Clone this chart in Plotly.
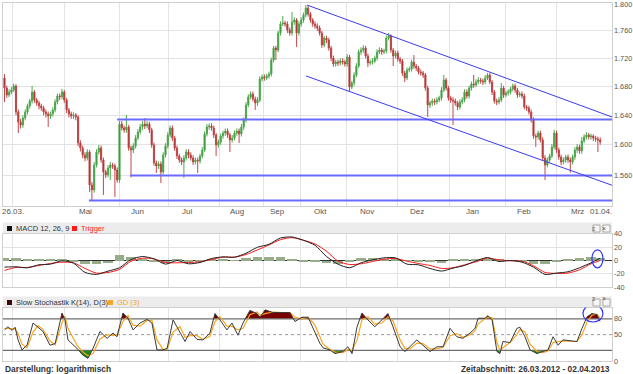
import math
import plotly.graph_objects as go

# ---------------- data ----------------
bar_index = list(range(260))

opens = [
 1692.0, 1677.8, 1668.0, 1672.2, 1675.0, 1680.7, 1644.5, 1630.8, 1626.7, 1636.2,
 1644.5, 1652.8, 1659.7, 1672.2, 1661.1, 1656.9, 1652.8, 1650.0, 1644.5, 1641.7,
 1639.0, 1641.7, 1647.2, 1658.3, 1666.7, 1665.5, 1672.2, 1661.1, 1647.2, 1641.7,
 1639.0, 1640.4, 1637.6, 1602.4, 1595.7, 1586.3, 1582.4, 1590.3, 1547.0, 1540.6,
 1573.1, 1590.3, 1595.7, 1579.7, 1564.0, 1560.1, 1569.2, 1573.1, 1571.8, 1566.6,
 1553.5, 1628.0, 1622.6, 1619.9, 1624.0, 1595.7, 1593.0, 1598.4, 1609.1, 1617.2,
 1624.0, 1628.0, 1625.3, 1628.0, 1619.9, 1599.7, 1575.8, 1571.8, 1574.5, 1564.0,
 1586.3, 1598.4, 1613.2, 1622.6, 1609.1, 1595.7, 1585.0, 1579.7, 1577.1, 1582.4,
 1590.3, 1586.3, 1582.4, 1577.1, 1579.7, 1578.4, 1585.0, 1593.0, 1614.5, 1624.0,
 1625.3, 1622.6, 1613.2, 1599.7, 1603.7, 1611.8, 1615.8, 1618.5, 1613.2, 1606.4,
 1609.1, 1615.8, 1618.5, 1614.5, 1624.0, 1633.5, 1654.1, 1665.3, 1669.4, 1662.5,
 1656.9, 1661.1, 1690.5, 1693.4, 1692.0, 1694.8, 1697.6, 1717.6, 1734.9, 1732.0,
 1756.9, 1770.2, 1771.7, 1770.2, 1761.3, 1756.9, 1773.1, 1776.1, 1756.9, 1770.2,
 1776.1, 1783.6, 1794.0, 1785.1, 1776.1, 1770.2, 1767.2, 1764.3, 1756.9, 1739.3,
 1749.5, 1746.6, 1734.9, 1720.5, 1711.9, 1714.7, 1713.3, 1716.2, 1714.7, 1711.9,
 1721.9, 1679.2, 1684.9, 1696.2, 1709.0, 1729.1, 1732.0, 1734.9, 1723.4, 1713.3,
 1714.7, 1716.2, 1720.5, 1729.1, 1732.0, 1729.1, 1730.6, 1749.5, 1752.5, 1732.0,
 1723.4, 1727.7, 1719.0, 1716.2, 1699.0, 1692.0, 1703.3, 1704.7, 1714.7, 1709.0,
 1706.1, 1700.5, 1699.0, 1696.2, 1677.8, 1654.1, 1656.9, 1659.7, 1658.3, 1661.1,
 1663.9, 1675.0, 1689.1, 1677.8, 1663.9, 1661.1, 1659.7, 1656.9, 1651.4, 1658.3,
 1661.1, 1672.2, 1666.7, 1677.8, 1683.5, 1682.1, 1686.3, 1689.1, 1687.7, 1686.3,
 1692.0, 1696.2, 1686.3, 1672.2, 1659.7, 1658.3, 1661.1, 1677.8, 1668.0, 1670.8,
 1672.2, 1676.4, 1680.7, 1675.0, 1668.0, 1669.4, 1666.7, 1651.4, 1650.0, 1644.5,
 1633.5, 1611.8, 1610.5, 1615.8, 1606.4, 1582.4, 1573.1, 1579.7, 1585.0, 1597.0,
 1615.8, 1593.0, 1583.7, 1577.1, 1579.7, 1583.7, 1579.7, 1577.1, 1583.7, 1593.0,
 1597.0, 1591.7, 1605.1, 1610.5, 1613.2, 1610.5, 1611.8, 1609.1, 1607.7, 1606.4]

highs = [
 1697.6, 1681, 1676, 1679, 1684, 1683, 1648, 1635, 1640, 1648,
 1656, 1663, 1680.7, 1675, 1664, 1660, 1656, 1653, 1648, 1645,
 1645, 1651, 1662, 1670, 1670, 1676.4, 1675, 1664, 1650, 1645,
 1644, 1643, 1640, 1606, 1599, 1590, 1594, 1593, 1551, 1577,
 1594, 1599.7, 1599, 1583, 1567, 1573, 1577, 1576, 1575, 1570,
 1632, 1632, 1626, 1640.4, 1627, 1599, 1602, 1613, 1621, 1628,
 1632, 1636.2, 1632, 1631, 1623, 1603, 1579, 1578, 1578, 1590,
 1602, 1617, 1626, 1626, 1612, 1599, 1588, 1583, 1586, 1594,
 1594, 1590, 1586, 1583, 1583, 1588, 1597, 1618, 1628, 1629,
 1629, 1626, 1616, 1607, 1615, 1619, 1622, 1622, 1616, 1613,
 1619, 1622, 1622, 1628, 1637, 1658, 1669, 1673, 1673, 1666,
 1665, 1694, 1697, 1697, 1698, 1701, 1721, 1738, 1738, 1760,
 1774, 1782.1, 1775, 1774, 1765, 1788.0, 1780, 1779, 1774, 1780,
 1787, 1798.5, 1797, 1788, 1779, 1774, 1771, 1768, 1760, 1753,
 1753, 1750, 1738, 1724, 1718, 1718, 1720, 1720, 1718, 1726,
 1725, 1688, 1700, 1713, 1733, 1736, 1739, 1738, 1727, 1718,
 1720, 1724, 1733, 1736, 1735, 1734, 1753, 1756.9, 1755, 1735,
 1731, 1731, 1722, 1719, 1702, 1707, 1708, 1718, 1724.8, 1712,
 1709, 1704, 1702, 1699, 1681, 1660, 1663, 1663, 1665, 1667,
 1679, 1696.2, 1692, 1681, 1667, 1665, 1663, 1660, 1662, 1665,
 1676, 1676, 1681, 1687, 1696.2, 1690, 1693, 1692, 1691, 1696,
 1699.0, 1699, 1689, 1675, 1663, 1665, 1684.9, 1681, 1674, 1676,
 1679.2, 1684, 1684, 1678, 1673, 1673, 1670, 1654, 1653, 1648,
 1637, 1615, 1619, 1619, 1610, 1586, 1583, 1588, 1601, 1619.9,
 1619, 1596, 1587, 1583, 1586.3, 1587, 1583, 1587, 1597, 1601,
 1600, 1610.5, 1614, 1617, 1615.8, 1615, 1614, 1612, 1611, 1610]

lows = [
 1658.3, 1664, 1665, 1669, 1672, 1640, 1615.8, 1622, 1623, 1633,
 1641, 1649, 1656, 1657, 1653, 1648, 1646, 1640, 1637, 1624.0,
 1635, 1638, 1644, 1655, 1661, 1662, 1657, 1643, 1637, 1635,
 1635, 1633, 1598, 1591, 1582, 1578, 1579, 1538.0, 1527.7, 1537,
 1570, 1587, 1576, 1534.2, 1556, 1557, 1553.5, 1568, 1531.6, 1550,
 1550, 1619, 1616, 1616, 1592, 1557, 1589, 1595, 1606, 1614,
 1620, 1621, 1622, 1616, 1596, 1572, 1562.7, 1568, 1549.6, 1561,
 1583, 1595, 1610, 1605, 1592, 1581, 1576, 1573, 1556.1, 1579,
 1582, 1579, 1573, 1574, 1562.7, 1575, 1582, 1590, 1611, 1620,
 1619, 1609, 1585.0, 1596, 1600, 1608, 1612, 1609, 1590.3, 1603,
 1606, 1612, 1602.4, 1611, 1620, 1630, 1651, 1662, 1659, 1647.2,
 1653, 1658, 1687, 1688, 1689, 1691, 1694, 1714, 1717.6, 1729,
 1753, 1767, 1766, 1757, 1753, 1753, 1769, 1736.4, 1753, 1766,
 1772, 1780, 1781, 1772, 1766, 1763, 1760, 1753, 1735, 1736,
 1742, 1731, 1716, 1708, 1708, 1709, 1710, 1711, 1708, 1708,
 1672.2, 1676, 1681, 1693, 1706, 1725, 1728, 1720, 1707.6, 1710,
 1711, 1713, 1717, 1726, 1725, 1726, 1727, 1746, 1728, 1709.0,
 1720, 1715, 1712, 1695, 1686.3, 1689, 1700, 1701, 1705, 1702,
 1697, 1695, 1692, 1674, 1637.6, 1650, 1653, 1654, 1655, 1658,
 1660, 1672, 1674, 1660, 1657, 1626.7, 1653, 1647, 1648, 1655,
 1658, 1663, 1663, 1674, 1678, 1679, 1683, 1684, 1682, 1683,
 1689, 1683, 1668, 1656, 1654, 1655, 1658, 1664, 1665, 1667,
 1669, 1673, 1671, 1664, 1665, 1663, 1648, 1646, 1641, 1630,
 1608, 1597.0, 1607, 1603, 1579, 1553.5, 1570, 1576, 1582, 1594,
 1589, 1580, 1573, 1574, 1576, 1576, 1563, 1574, 1580, 1589,
 1588, 1588, 1602, 1607, 1607, 1607, 1605, 1604, 1590.3, 1600]

closes = [
 1677.8, 1668.0, 1672.2, 1675.0, 1680.7, 1644.5, 1630.8, 1626.7, 1636.2, 1644.5,
 1652.8, 1659.7, 1672.2, 1661.1, 1656.9, 1652.8, 1650.0, 1644.5, 1641.7, 1639.0,
 1641.7, 1647.2, 1658.3, 1666.7, 1665.5, 1672.2, 1661.1, 1647.2, 1641.7, 1639.0,
 1640.4, 1637.6, 1602.4, 1595.7, 1586.3, 1582.4, 1590.3, 1547.0, 1540.6, 1573.1,
 1590.3, 1595.7, 1579.7, 1564.0, 1560.1, 1569.2, 1573.1, 1571.8, 1566.6, 1553.5,
 1628.0, 1622.6, 1619.9, 1624.0, 1595.7, 1593.0, 1598.4, 1609.1, 1617.2, 1624.0,
 1628.0, 1625.3, 1628.0, 1619.9, 1599.7, 1575.8, 1571.8, 1574.5, 1564.0, 1586.3,
 1598.4, 1613.2, 1622.6, 1609.1, 1595.7, 1585.0, 1579.7, 1577.1, 1582.4, 1590.3,
 1586.3, 1582.4, 1577.1, 1579.7, 1578.4, 1585.0, 1593.0, 1614.5, 1624.0, 1625.3,
 1622.6, 1613.2, 1599.7, 1603.7, 1611.8, 1615.8, 1618.5, 1613.2, 1606.4, 1609.1,
 1615.8, 1618.5, 1614.5, 1624.0, 1633.5, 1654.1, 1665.3, 1669.4, 1662.5, 1656.9,
 1661.1, 1690.5, 1693.4, 1692.0, 1694.8, 1697.6, 1717.6, 1734.9, 1732.0, 1756.9,
 1770.2, 1771.7, 1770.2, 1761.3, 1756.9, 1773.1, 1776.1, 1756.9, 1770.2, 1776.1,
 1783.6, 1794.0, 1785.1, 1776.1, 1770.2, 1767.2, 1764.3, 1756.9, 1739.3, 1749.5,
 1746.6, 1734.9, 1720.5, 1711.9, 1714.7, 1713.3, 1716.2, 1714.7, 1711.9, 1721.9,
 1679.2, 1684.9, 1696.2, 1709.0, 1729.1, 1732.0, 1734.9, 1723.4, 1713.3, 1714.7,
 1716.2, 1720.5, 1729.1, 1732.0, 1729.1, 1730.6, 1749.5, 1752.5, 1732.0, 1723.4,
 1727.7, 1719.0, 1716.2, 1699.0, 1692.0, 1703.3, 1704.7, 1714.7, 1709.0, 1706.1,
 1700.5, 1699.0, 1696.2, 1677.8, 1654.1, 1656.9, 1659.7, 1658.3, 1661.1, 1663.9,
 1675.0, 1689.1, 1677.8, 1663.9, 1661.1, 1659.7, 1656.9, 1651.4, 1658.3, 1661.1,
 1672.2, 1666.7, 1677.8, 1683.5, 1682.1, 1686.3, 1689.1, 1687.7, 1686.3, 1692.0,
 1696.2, 1686.3, 1672.2, 1659.7, 1658.3, 1661.1, 1677.8, 1668.0, 1670.8, 1672.2,
 1676.4, 1680.7, 1675.0, 1668.0, 1669.4, 1666.7, 1651.4, 1650.0, 1644.5, 1633.5,
 1611.8, 1610.5, 1615.8, 1606.4, 1582.4, 1573.1, 1579.7, 1585.0, 1597.0, 1615.8,
 1593.0, 1583.7, 1577.1, 1579.7, 1583.7, 1579.7, 1577.1, 1583.7, 1593.0, 1597.0,
 1591.7, 1605.1, 1610.5, 1613.2, 1610.5, 1611.8, 1609.1, 1607.7, 1606.4, 1603.7]

# x axis: month grid positions (bar index) and label positions
month_grid_idx = [3.57, 26.0, 49.9, 71.4, 93.6, 112.5, 128.8, 148.8, 170.8, 193.4, 218.0, 240.1]
month_label_idx = [3.9, 35.4, 58.0, 79.3, 101.1, 118.5, 137.2, 157.6, 179.5, 203.3, 225.9, 249.3, 259.3]
month_labels = ["26.03.", "Mai", "Jun", "Jul", "Aug", "Sep", "Okt", "Nov", "Dez", "Jan", "Feb", "Mrz", "01.04."]
x_first, x_last = -0.65, 264.13

price_ticks = [1520, 1560, 1600, 1640, 1680, 1720, 1760, 1800]
price_labels = ["1.520", "1.560", "1.600", "1.640", "1.680", "1.720", "1.760", "1.800"]

# support lines (level, starting bar) and the trend channel
support_levels = [1634.0, 1559.5, 1527.0]
support_start = [49.0, 54.6, 36.7]
channel_upper_x = [131.5, x_last]
channel_upper_y = [1798.5, 1637.6]
channel_lower_x = [131.1, x_last]
channel_lower_y = [1694.8, 1546.7]

# MACD 12,26,9 (sampled every 5 bars)
macd_idx = list(range(0, 256, 5)) + [259]
macd_vals = [-10, -9.5, -11, -6.5, -5.5, -0.5, -4, -18, -21, -16,
             -11, 1.5, 6, 2.5, -5.5, 0, -5, -3, 3, 5.5,
             5, 11, 20, 24.5, 34, 35.5, 30.5, 23, 6, -5.5,
             -11, -3.5, 1, 4, 4, -5.5, -6.5, -12, -16, -11.5,
             -7.5, -0.5, 4.5, -1.5, 0, -2.5, -10, -21, -19, -17,
             -11, -3.5, 3.5]
trigger_vals = [-15, -10.5, -10.5, -7.5, -4.5, -2.5, -3.5, -12, -19, -18,
                -13.5, -1, 3.5, 2.5, -3, -3.5, -3, -2, 1.5, 5,
                5, 9, 16, 23.5, 31.5, 34.5, 30.5, 25, 14, -1,
                -6, -5, -1.5, 2, 3, -1, -4.5, -7.5, -12, -11,
                -6.5, -2, 3.5, 1, -0.5, -1, -8, -18, -19.5, -19,
                -14, -5, 0]
hist_vals = [4, 3.5, 1, 1, 1, 3, -3, -6, -6, -4,
             8, 5, 2, -2, -4, 2.5, -2, -1.5, 3, 2,
             0.5, 4, 6, 6, 5, 1, -2, -3, -4, -5,
             -3, 4, 4.5, 2, 1.5, 0.5, -2, -3, -3.5, 1.5,
             2.5, 2.5, 2, 1.5, 0.5, -3, -5, -5, -1, 3,
             4.5, 5.5, 4]
macd_ticks = [-40, -20, 0, 20, 40]

# Slow stochastic K(14), D(3)
stoch_idx = [0, 1.5, 3.3, 4.6, 5.9, 7.6, 9.8, 12.4, 14.6, 16.7,
             19.8, 22, 25, 26.3, 27.6, 31.5, 34.1, 36.3, 38.5, 41.5,
             44.6, 47.2, 48.9, 51.5, 53.7, 55.9, 58.9, 62, 64.1, 66.3,
             68.9, 70.7, 73.3, 76.3, 78.5, 80.7, 83.7, 86.3, 89.3, 91.5,
             93.7, 96.7, 98.9, 101.5, 103.7, 106.7, 109.8, 111.1, 113.3, 116.7,
             121.1, 124.1, 126.3, 129.3, 132, 135, 137.2, 138.5, 141.5, 143.7,
             147.2, 149.3, 151.1, 153.3, 155.4, 158, 161, 164.1, 166.7, 168.9,
             172, 174.1, 176.3, 179.3, 181.9, 185, 188, 190.7, 193.7, 196.7,
             199.3, 202.4, 204.6, 205.9, 208.9, 210.2, 212, 214.1, 215.4, 216.7,
             219.8, 222.8, 224.1, 226.3, 228.5, 231.5, 234.1, 236.3, 238.5, 240.7,
             242.8, 247.2, 248.9, 251.1, 253.3, 255.4, 257.6, 258.9]
stoch_k = [59, 65, 58, 64, 40, 21, 30, 72, 64, 56,
           30, 33, 91, 78, 40, 24, 11, 5, 24, 56,
           43, 53, 46, 91, 81, 59, 72, 79, 72, 21,
           21, 24, 78, 53, 37, 56, 41, 40, 53, 90,
           78, 59, 72, 49, 72, 96, 90, 83, 97, 92,
           92, 92, 75, 83, 83, 55, 33, 25, 21, 14,
           18, 27, 14, 65, 91, 78, 65, 78, 90, 65,
           27, 18, 27, 40, 30, 18, 27, 27, 62, 46,
           43, 53, 62, 81, 81, 86, 78, 18, 14, 37,
           35, 62, 64, 46, 21, 14, 18, 21, 46, 30,
           40, 37, 37, 62, 84, 90, 88, 75]
stoch_d = [62, 62, 61, 61, 52, 32, 25, 55, 67, 60,
           38, 31, 72, 85, 62, 30, 17, 10, 14, 42,
           50, 48, 50, 75, 86, 68, 66, 77, 77, 40,
           22, 22, 55, 65, 45, 48, 48, 41, 47, 75,
           84, 66, 66, 59, 62, 88, 93, 87, 90, 93,
           92, 92, 83, 80, 83, 68, 45, 32, 22, 17,
           16, 22, 20, 40, 78, 84, 70, 72, 84, 76,
           40, 24, 23, 34, 33, 23, 23, 26, 48, 52,
           45, 50, 57, 70, 80, 83, 82, 35, 20, 25,
           35, 50, 60, 55, 32, 18, 16, 19, 35, 36,
           38, 37, 37, 50, 74, 87, 89, 82]
stoch_upper, stoch_mid, stoch_lower = 80, 50, 20
stoch_ticks = [0, 50, 80]

# ---------------- helpers (layout geometry) ----------------
W, H = 633, 374
def px_x(v): return v / W
def px_y(v): return 1 - v / H

PL, PR = 3, 612
FONT = "Liberation Sans, Arial, sans-serif"
LABEL_X = 612.5
LABEL_FONT = dict(family=FONT, size=7.3, color="#555555")


def beyond_polys(xs, ys, level, above):
    def out(v):
        return v > level if above else v < level
    polys, poly = [], None
    for j, (x, y) in enumerate(zip(xs, ys)):
        if j > 0:
            x0, y0 = xs[j - 1], ys[j - 1]
            if out(y0) != out(y):
                t = (level - y0) / (y - y0)
                c = (x0 + t * (x - x0), level)
                if out(y):
                    poly = [c]
                else:
                    poly.append(c)
                    polys.append(poly)
                    poly = None
        if out(y):
            if poly is None:
                poly = [(x, level)]
            poly.append((x, y))
    if poly:
        poly.append((poly[-1][0], level))
        polys.append(poly)
    fx, fy = [], []
    for p in polys:
        fx += [q[0] for q in p] + [None]
        fy += [q[1] for q in p] + [None]
    return fx, fy


fig = go.Figure()

# ---------------- main price panel ----------------
fig.add_trace(go.Candlestick(
    x=bar_index, open=opens, high=highs, low=lows, close=closes,
    increasing=dict(line=dict(color="#4fa84f", width=1), fillcolor="#1a851a"),
    decreasing=dict(line=dict(color="#c04848", width=1), fillcolor="#920606"),
    whiskerwidth=0, xaxis="x", yaxis="y", hoverinfo="skip", showlegend=False))

for lvl, st in zip(support_levels, support_start):
    fig.add_trace(go.Scatter(x=[st, x_last], y=[lvl, lvl], mode="lines",
                             line=dict(color="#6a6aff", width=2),
                             xaxis="x", yaxis="y", hoverinfo="skip", showlegend=False))
for cx, cy in [(channel_upper_x, channel_upper_y), (channel_lower_x, channel_lower_y)]:
    fig.add_trace(go.Scatter(x=cx, y=cy, mode="lines",
                             line=dict(color="#3b3bf0", width=1),
                             xaxis="x", yaxis="y", hoverinfo="skip", showlegend=False))

# ---------------- MACD panel ----------------
fig.add_trace(go.Bar(x=macd_idx, y=hist_vals, width=4.0, marker=dict(color="#97ad8a", line=dict(width=0)),
                     xaxis="x2", yaxis="y2", hoverinfo="skip", showlegend=False))
fig.add_trace(go.Scatter(x=macd_idx, y=trigger_vals, mode="lines",
                         line=dict(color="#ff1a1a", width=1, shape="spline", smoothing=0.7),
                         xaxis="x2", yaxis="y2", hoverinfo="skip", showlegend=False))
fig.add_trace(go.Scatter(x=macd_idx, y=macd_vals, mode="lines",
                         line=dict(color="#222222", width=1, shape="spline", smoothing=0.7),
                         xaxis="x2", yaxis="y2", hoverinfo="skip", showlegend=False))

# ---------------- Stochastic panel ----------------
hx, hy = beyond_polys(stoch_idx, stoch_k, stoch_upper, True)
lx, ly = beyond_polys(stoch_idx, stoch_k, stoch_lower, False)
fig.add_trace(go.Scatter(x=hx, y=hy, mode="lines", fill="toself", fillcolor="#7a0000",
                         line=dict(width=0, color="#7a0000"), xaxis="x3", yaxis="y3",
                         hoverinfo="skip", showlegend=False))
fig.add_trace(go.Scatter(x=lx, y=ly, mode="lines", fill="toself", fillcolor="#178a17",
                         line=dict(width=0, color="#178a17"), xaxis="x3", yaxis="y3",
                         hoverinfo="skip", showlegend=False))
for lvl, col, dash, wd in [(stoch_upper, "#6e6e6e", "solid", 1.3), (stoch_lower, "#6e6e6e", "solid", 1.3),
                           (stoch_mid, "#9a9a9a", "dot", 1)]:
    fig.add_trace(go.Scatter(x=[x_first, x_last], y=[lvl, lvl], mode="lines",
                             line=dict(color=col, width=wd, dash=dash),
                             xaxis="x3", yaxis="y3", hoverinfo="skip", showlegend=False))
fig.add_trace(go.Scatter(x=stoch_idx, y=stoch_d, mode="lines",
                         line=dict(color="#f5a623", width=1.2),
                         xaxis="x3", yaxis="y3", hoverinfo="skip", showlegend=False))
fig.add_trace(go.Scatter(x=stoch_idx, y=stoch_k, mode="lines",
                         line=dict(color="#3a3a3a", width=1),
                         xaxis="x3", yaxis="y3", hoverinfo="skip", showlegend=False))

# ---------------- axes ----------------
grid_c = "#e3e3e3"
frame_c = "#cfcfcf"
minor_grid = dict(tickmode="array", tickvals=month_grid_idx, showgrid=True,
                  gridcolor=grid_c, gridwidth=1, ticks="")

xcommon = dict(domain=[px_x(PL), px_x(PR)], showline=True, mirror=True, linecolor=frame_c,
               zeroline=False, showgrid=False, ticks="", fixedrange=True, minor=minor_grid)

fig.update_layout(
    width=W, height=H, margin=dict(l=0, r=0, t=0, b=0),
    paper_bgcolor="white", plot_bgcolor="white",
    template="none", showlegend=False, hovermode=False,
    font=dict(family=FONT, size=8, color="#444444"),
    bargap=0,
    xaxis=dict(**xcommon, anchor="y", range=[x_first, x_last], tickmode="array",
               tickvals=month_label_idx, ticktext=month_labels, showticklabels=False,
               rangeslider=dict(visible=False)),
    yaxis=dict(domain=[px_y(206), px_y(3)], type="log",
               range=[3.18186, 3.255636], side="right", anchor="x",
               tickmode="array", tickvals=price_ticks, showticklabels=False,
               showgrid=True, gridcolor=grid_c, ticks="",
               showline=True, mirror=True, linecolor=frame_c, zeroline=False, fixedrange=True),
    xaxis2=dict(**xcommon, anchor="y2", matches="x", showticklabels=False),
    yaxis2=dict(domain=[px_y(287), px_y(234)], range=[-40, 40], side="right", anchor="x2",
                tickmode="array", tickvals=macd_ticks, showticklabels=False,
                showgrid=True, gridcolor=grid_c, ticks="",
                zeroline=True, zerolinecolor="#333333", zerolinewidth=1,
                showline=True, mirror=True, linecolor=frame_c, fixedrange=True),
    xaxis3=dict(**xcommon, anchor="y3", matches="x", showticklabels=False),
    yaxis3=dict(domain=[px_y(361), px_y(307.5)], range=[0, 101.5], side="right", anchor="x3",
                tickmode="array", tickvals=stoch_ticks, showticklabels=False,
                showgrid=False, ticks="", zeroline=False,
                showline=True, mirror=True, linecolor=frame_c, fixedrange=True),
)

shapes = []
annotations = []

# axis labels as annotations (positioned exactly)
for v, t in zip(month_label_idx, month_labels):
    annotations.append(dict(x=v, xref="x", y=px_y(211), yref="paper", text=t, showarrow=False,
                            xanchor="center", yanchor="middle",
                            font=dict(family=FONT, size=8, color="#555555")))
for v, t in zip(price_ticks, price_labels):
    annotations.append(dict(x=px_x(LABEL_X), xref="paper", y=math.log10(v), yref="y",
                            text=t, showarrow=False, xanchor="left", yanchor="middle",
                            borderpad=0, font=LABEL_FONT))
for v in macd_ticks:
    annotations.append(dict(x=px_x(LABEL_X), xref="paper", y=v, yref="y2", text=str(v), showarrow=False,
                            xanchor="left", yanchor="middle", borderpad=0, font=LABEL_FONT))
for v in stoch_ticks:
    annotations.append(dict(x=px_x(LABEL_X), xref="paper", y=v, yref="y3", text=str(v), showarrow=False,
                            xanchor="left", yanchor="middle", borderpad=0, font=LABEL_FONT))

# panel header strips
for top, bot in [(222.5, 233.5), (296.5, 307.5)]:
    shapes.append(dict(type="rect", xref="paper", yref="paper", x0=px_x(PL), x1=px_x(PR),
                       y0=px_y(bot), y1=px_y(top), fillcolor="#ececec", line=dict(width=0), layer="below"))
    for bx in (593, 603):
        shapes.append(dict(type="rect", xref="paper", yref="paper", x0=px_x(bx), x1=px_x(bx + 7),
                           y0=px_y(top + 9.5), y1=px_y(top + 2.5), fillcolor="#f7f7f7",
                           line=dict(color="#9a9a9a", width=0.8)))
    annotations.append(dict(x=px_x(596.5), y=px_y(top + 6), xref="paper", yref="paper", text="≡",
                            showarrow=False, borderpad=0, font=dict(family=FONT, size=6, color="#555")))
    annotations.append(dict(x=px_x(606.5), y=px_y(top + 6), xref="paper", yref="paper", text="×",
                            showarrow=False, borderpad=0, font=dict(family=FONT, size=7, color="#555")))


def legend_square(x0, yc, color):
    shapes.append(dict(type="rect", xref="paper", yref="paper", x0=px_x(x0), x1=px_x(x0 + 5),
                       y0=px_y(yc + 2.5), y1=px_y(yc - 2.5), fillcolor=color, line=dict(width=0)))


def legend_text(x0, yc, text, color):
    annotations.append(dict(x=px_x(x0), y=px_y(yc), xref="paper", yref="paper", text=text,
                            xanchor="left", yanchor="middle", showarrow=False,
                            font=dict(family=FONT, size=7.5, color=color)))


legend_square(7, 228.5, "#111111")
legend_text(13.5, 228.5, "MACD 12, 26, 9", "#333333")
legend_square(72, 228.5, "#ff1a1a")
legend_text(78.5, 228.5, "Trigger", "#ff1a1a")

legend_square(7, 302.5, "#3a0a0a")
legend_text(13.5, 302.5, "Slow Stochastik K(14), D(3)", "#333333")
legend_square(108, 302.5, "#f5a623")
legend_text(114.5, 302.5, "GD (3)", "#f5a623")

# blue ellipses marking the latest values
shapes.append(dict(type="circle", xref="x2", yref="y2", x0=255.4, x1=260.2, y0=-11, y1=16,
                   line=dict(color="#3333ff", width=1.2)))
shapes.append(dict(type="circle", xref="x3", yref="y3", x0=251.5, x1=260.2, y0=74, y1=106.7,
                   line=dict(color="#3333ff", width=1.2)))

# footer
annotations.append(dict(x=px_x(3), y=px_y(369), xref="paper", yref="paper",
                        text="<b>Darstellung: logarithmisch</b>", xanchor="left", yanchor="middle",
                        showarrow=False, font=dict(family=FONT, size=8.4, color="#333333")))
annotations.append(dict(x=px_x(612), y=px_y(369), xref="paper", yref="paper",
                        text="<b>Zeitabschnitt: 26.03.2012 - 02.04.2013</b>", xanchor="right", yanchor="middle",
                        showarrow=False, font=dict(family=FONT, size=8.4, color="#333333")))

fig.update_layout(shapes=shapes, annotations=annotations)

fig.write_html("out.html", config={"displayModeBar": False},
               post_script="document.body.style.margin='0px';document.body.style.overflow='hidden';")
